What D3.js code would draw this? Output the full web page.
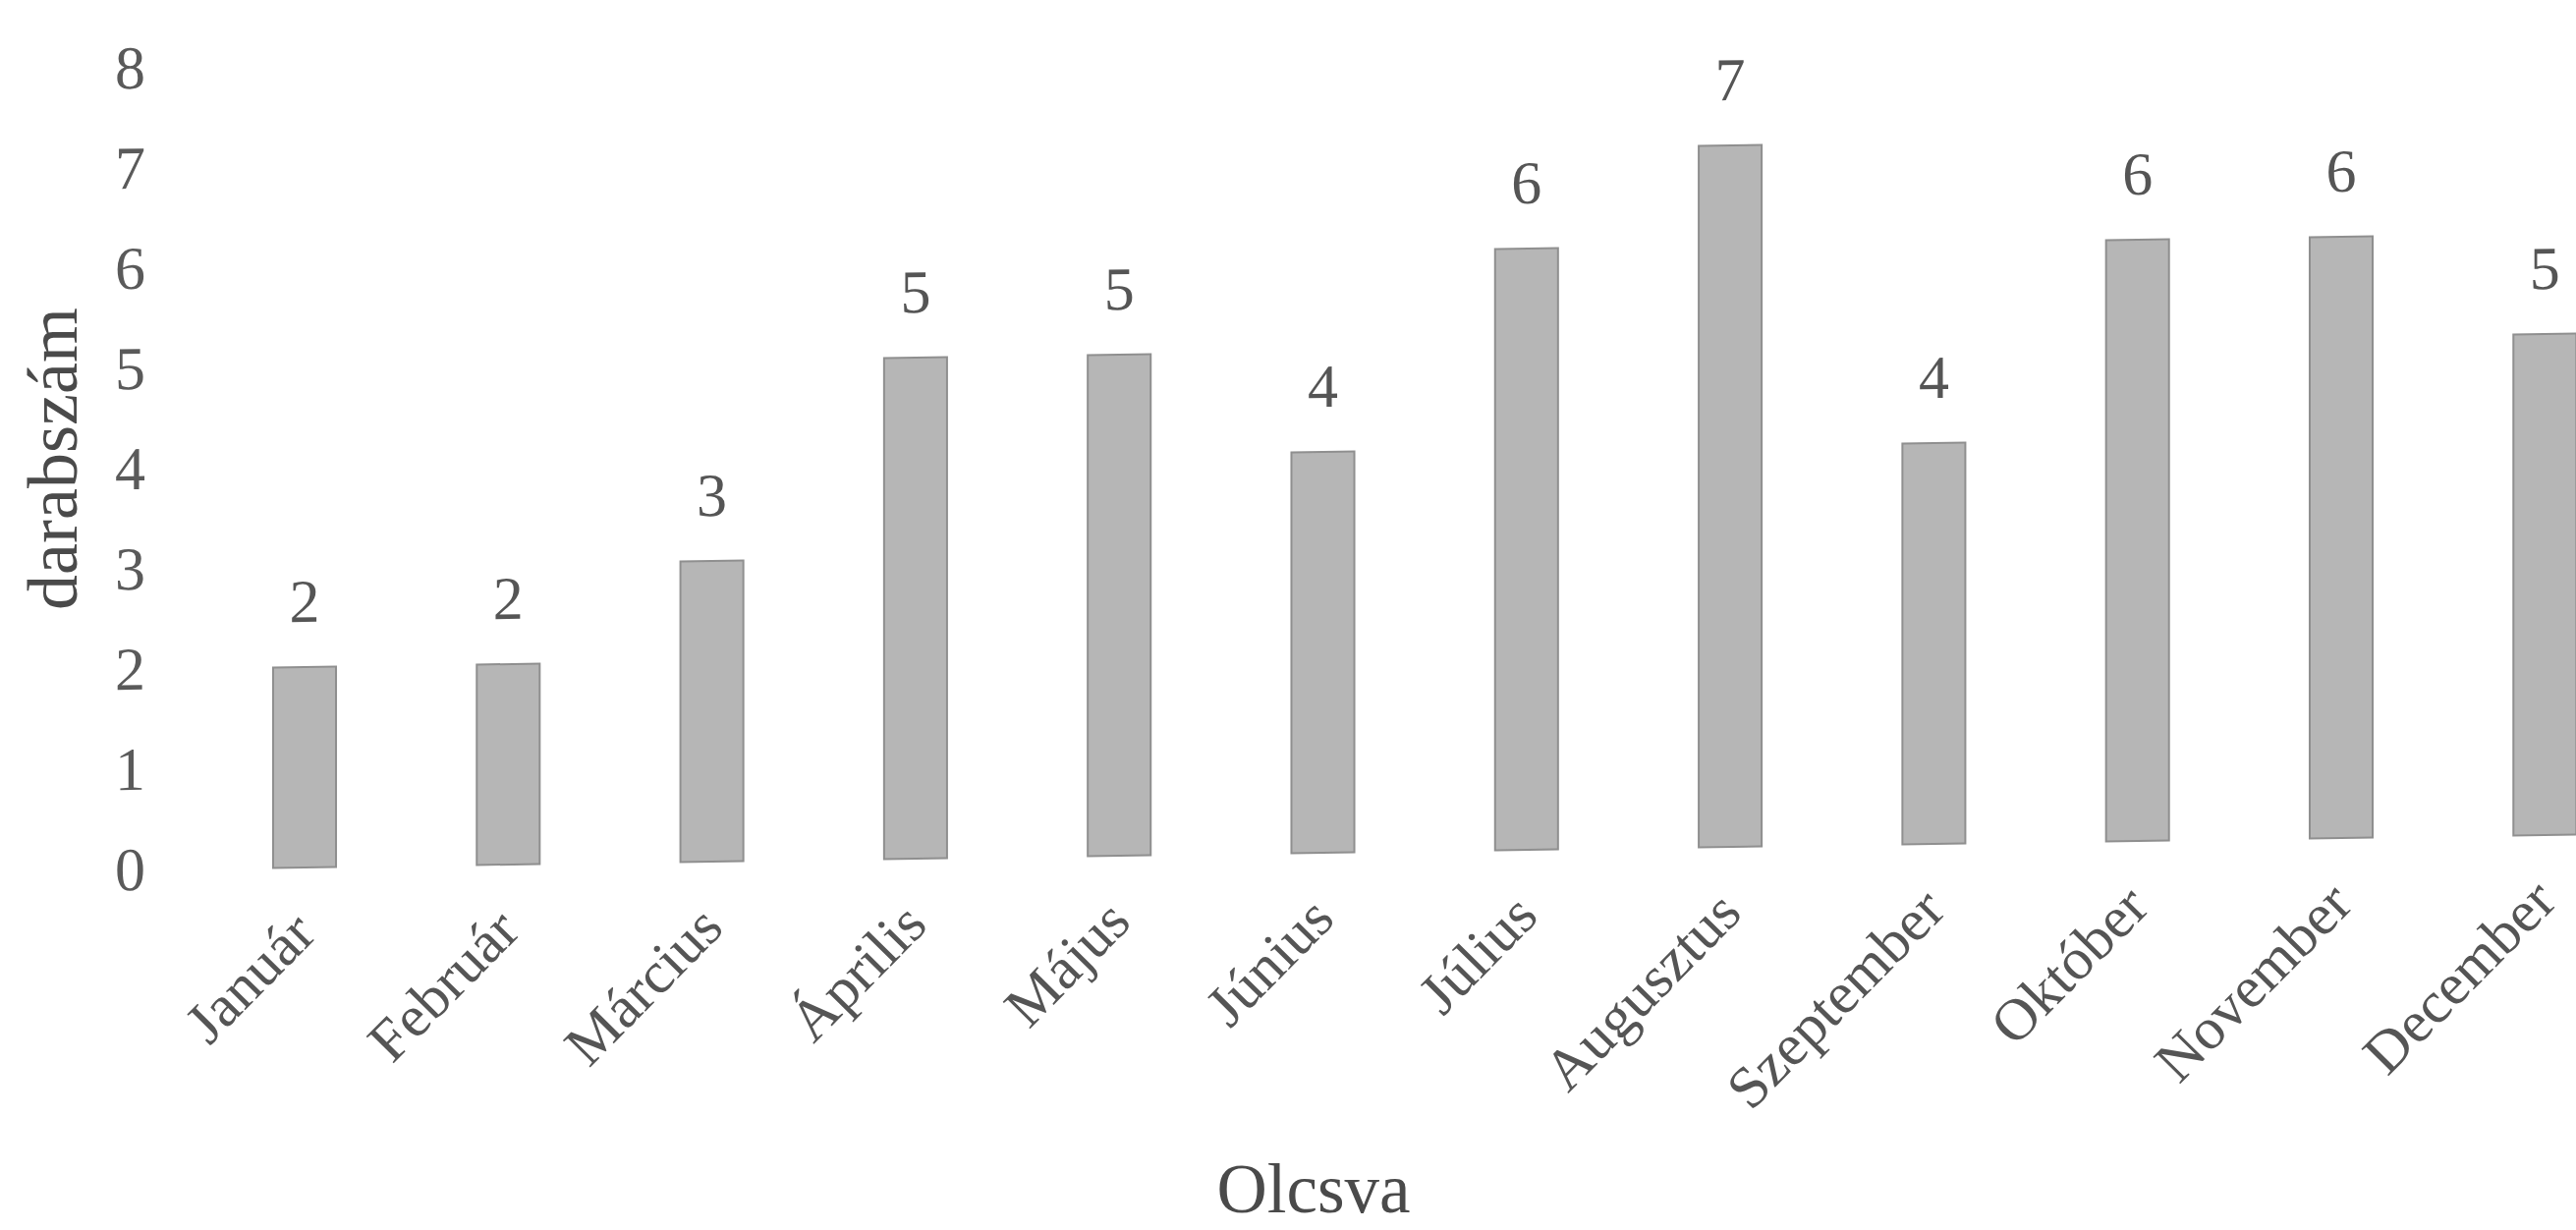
<!DOCTYPE html>
<html>
<head>
<meta charset="utf-8">
<script src="https://cdn.jsdelivr.net/npm/d3@7"></script>
<style>
  body { margin: 0; background: #ffffff; }
  text { font-family: "Liberation Serif", "Times New Roman", serif; }
</style>
</head>
<body>
<div id="chart"></div>
<script>
// values
var months = ["Január", "Február", "Március", "Április", "Május", "Június",
  "Július", "Augusztus", "Szeptember", "Október", "November", "December"];
var counts = [2, 2, 3, 5, 5, 4, 6, 7, 4, 6, 6, 5];
var yTicks = [0, 1, 2, 3, 4, 5, 6, 7, 8];

var svgWidth = 2622;
var svgHeight = 1252;

// the scan is slightly tilted: baseline rises to the right
var tiltDeg = 0.83;
var k = Math.tan(tiltDeg * Math.PI / 180);
var pivotX = 310;

var svg = d3.select("#chart")
  .append("svg")
  .attr("width", svgWidth)
  .attr("height", svgHeight);

var chartGroup = svg.append("g")
  .attr("transform", `translate(0, ${pivotX * k}) skewY(${-tiltDeg})`);

// scales
var step = 207.3;
var xScale = d3.scaleBand()
  .domain(months)
  .range([pivotX - step / 2, pivotX + 11 * step + step / 2])
  .paddingInner(0.691)
  .paddingOuter(0.3455);

var yScale = d3.scaleLinear()
  .domain([0, 8])
  .range([883, 883 - 8 * 102]);

// y axis: labels only, no line, no ticks
var leftAxis = d3.axisLeft(yScale)
  .tickValues(yTicks)
  .tickSize(0)
  .tickPadding(12)
  .tickFormat(d3.format("d"));

var yAxis = chartGroup.append("g")
  .attr("transform", "translate(160, 0)")
  .call(leftAxis);

yAxis.select(".domain").remove();
yAxis.selectAll("text")
  .attr("font-family", "Liberation Serif, serif")
  .attr("font-size", "62px")
  .attr("fill", "#5a5a5a");

// bars
chartGroup.selectAll(".bar")
  .data(counts)
  .enter()
  .append("rect")
  .attr("class", "bar")
  .attr("x", (d, i) => xScale(months[i]))
  .attr("y", d => yScale(d))
  .attr("width", xScale.bandwidth())
  .attr("height", d => yScale(0) - yScale(d))
  .attr("fill", "#b6b6b6")
  .attr("stroke", "#8f8f8f")
  .attr("stroke-width", 2);

// value labels above bars
chartGroup.selectAll(".val")
  .data(counts)
  .enter()
  .append("text")
  .attr("class", "val")
  .attr("x", (d, i) => xScale(months[i]) + xScale.bandwidth() / 2)
  .attr("y", d => yScale(d) - 46)
  .attr("text-anchor", "middle")
  .attr("font-size", "62px")
  .attr("fill", "#555")
  .text(d => d);

// month labels, rotated -45
chartGroup.selectAll(".month")
  .data(months)
  .enter()
  .append("text")
  .attr("class", "month")
  .attr("transform", d => `translate(${xScale(d) + xScale.bandwidth() / 2 + 14}, ${yScale(0) + 70}) rotate(-45)`)
  .attr("text-anchor", "end")
  .attr("font-size", "60px")
  .attr("fill", "#555")
  .text(d => d);

// axis titles
svg.append("text")
  .attr("transform", "translate(78, 467) rotate(-90)")
  .attr("text-anchor", "middle")
  .attr("font-size", "72px")
  .attr("fill", "#4a4a4a")
  .text("darabszám");

svg.append("text")
  .attr("x", 1337)
  .attr("y", 1234)
  .attr("text-anchor", "middle")
  .attr("font-size", "71px")
  .attr("fill", "#4a4a4a")
  .text("Olcsva");
</script>
</body>
</html>
